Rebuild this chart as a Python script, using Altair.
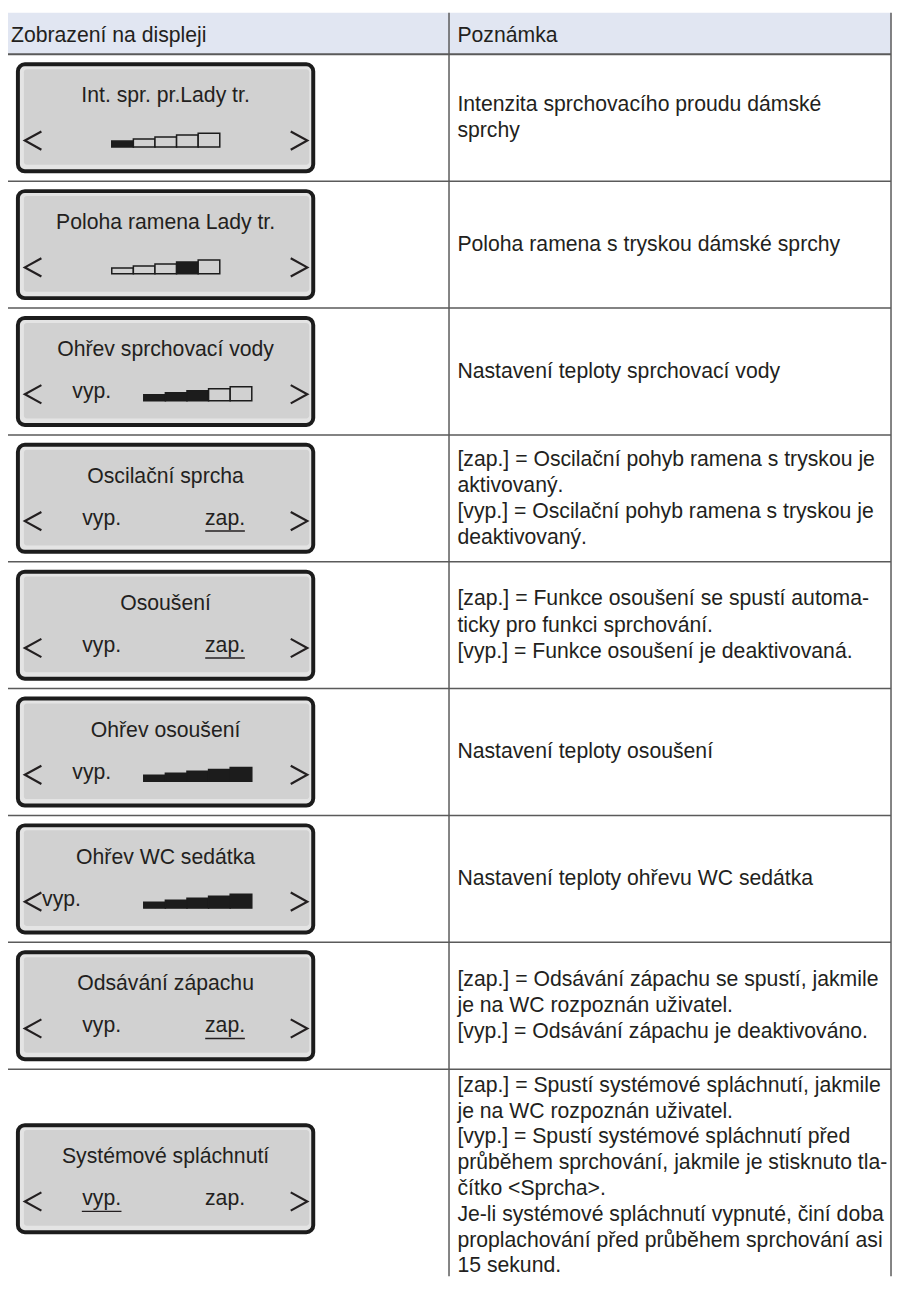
import altair as alt
import pandas as pd

# ---------------- data ----------------
header_left = "Zobrazení na displeji"
header_right = "Poznámka"

display_titles = [
    "Int. spr. pr.Lady tr.",
    "Poloha ramena Lady tr.",
    "Ohřev sprchovací vody",
    "Oscilační sprcha",
    "Osoušení",
    "Ohřev osoušení",
    "Ohřev WC sedátka",
    "Odsávání zápachu",
    "Systémové spláchnutí",
]
control_types = ["bars", "bars", "off_bars", "switch", "switch",
                 "off_bars", "off_bars_tight", "switch", "switch"]
bar_filled = [
    [1, 0, 0, 0, 0],
    [0, 0, 0, 1, 0],
    [1, 1, 1, 0, 0],
    None,
    None,
    [1, 1, 1, 1, 1],
    [1, 1, 1, 1, 1],
    None,
    None,
]
switch_selected = [None, None, None, "zap.", "zap.", None, None, "zap.", "vyp."]
off_label = "vyp."
on_label = "zap."
bar_levels = [6, 8, 10, 12, 14]

notes = [
    ["Intenzita sprchovacího proudu dámské", "sprchy"],
    ["Poloha ramena s tryskou dámské sprchy"],
    ["Nastavení teploty sprchovací vody"],
    ["[zap.] = Oscilační pohyb ramena s tryskou je", "aktivovaný.",
     "[vyp.] = Oscilační pohyb ramena s tryskou je", "deaktivovaný."],
    ["[zap.] = Funkce osoušení se spustí automa-", "ticky pro funkci sprchování.",
     "[vyp.] = Funkce osoušení je deaktivovaná."],
    ["Nastavení teploty osoušení"],
    ["Nastavení teploty ohřevu WC sedátka"],
    ["[zap.] = Odsávání zápachu se spustí, jakmile", "je na WC rozpoznán uživatel.",
     "[vyp.] = Odsávání zápachu je deaktivováno."],
    ["[zap.] = Spustí systémové spláchnutí, jakmile", "je na WC rozpoznán uživatel.",
     "[vyp.] = Spustí systémové spláchnutí před",
     "průběhem sprchování, jakmile je stisknuto tla-", "čítko <Sprcha>.",
     "Je-li systémové spláchnutí vypnuté, činí doba",
     "proplachování před průběhem sprchování asi", "15 sekund."],
]

# ---------------- layout (page pixels) ----------------
FONT = "Liberation Sans"
INK = "#231f20"
LINE = "#5a5a5a"
HEAD_BG = "#e1e6f2"
BOX_DARK = "#1c1c1c"
BOX_RIM = "#e4e4e4"
BOX_BG = "#d1d1d1"

W, H = 892, 1274          # chart occupies page x 8..900, y 8..1282
PAGE_BOTTOM = 8 + H

T_LEFT, T_RIGHT, T_TOP, HEAD_BOT = 7, 899, 7, 49
COL_DIV = 453
ROW_H = 128
row_tops = [HEAD_BOT + ROW_H * i for i in range(len(display_titles))]
row_bots = [t + ROW_H for t in row_tops]
row_bots[-1] = 1294
BOX_L, BOX_R, BOX_H = 16, 318, 111
FS = 21.4
LH = 26.4

xs = alt.Scale(domain=[8, 8 + W], range=[0, W], nice=False, zero=False)
ys = alt.Scale(domain=[8, 8 + H], range=[0, H], nice=False, zero=False)


def X(f):
    return alt.X(f, type="quantitative", scale=xs, axis=None)


def Y(f):
    return alt.Y(f, type="quantitative", scale=ys, axis=None)


def X2(f):
    return alt.X2(f)


def Y2(f):
    return alt.Y2(f)


# header background
head_df = pd.DataFrame([{"x": T_LEFT, "x2": T_RIGHT, "y": T_TOP, "y2": HEAD_BOT}])
head_bg = alt.Chart(head_df).mark_rect(fill=HEAD_BG).encode(
    x=X("x"), x2=X2("x2"), y=Y("y"), y2=Y2("y2"))

# grid lines
hl = [{"x": T_LEFT, "x2": T_RIGHT, "y": HEAD_BOT, "w": 2}]
for t in row_tops[1:]:
    hl.append({"x": T_LEFT, "x2": T_RIGHT, "y": t, "w": 1.5})
hl_df = pd.DataFrame(hl)
hlines = alt.Chart(hl_df).mark_rule(color=LINE).encode(
    x=X("x"), x2=X2("x2"), y=Y("y"),
    strokeWidth=alt.StrokeWidth("w:Q", scale=None))
vl_df = pd.DataFrame([{"x": xv, "y": T_TOP, "y2": PAGE_BOTTOM}
                      for xv in (T_LEFT, COL_DIV, T_RIGHT)])
vlines = alt.Chart(vl_df).mark_rule(color=LINE, strokeWidth=1.5).encode(
    x=X("x"), y=Y("y"), y2=Y2("y2"))

# display boxes
outer, inner, bars, chev, titles, labels, unders, note_rows = [], [], [], [], [], [], [], []
for i, title in enumerate(display_titles):
    cy_row = (row_tops[i] + row_bots[i]) / 2
    bt = cy_row - BOX_H / 2
    bb = bt + BOX_H
    outer.append({"x": BOX_L + 2, "x2": BOX_R - 2, "y": bt + 1.5, "y2": bb - 1.5})
    inner.append({"x": BOX_L + 8, "x2": BOX_R - 6, "y": bt + 6.5, "y2": bb - 8})
    titles.append({"x": (BOX_L + BOX_R) / 2, "y": bt + 40, "text": title})
    cyc = bt + 78.5
    # chevrons
    for k, pts in enumerate([
        [(BOX_L + 25.7, cyc - 9.2), (BOX_L + 9, cyc), (BOX_L + 25.7, cyc + 9.2)],
        [(BOX_R - 24.7, cyc - 9.2), (BOX_R - 8, cyc), (BOX_R - 24.7, cyc + 9.2)],
    ]):
        for o, (px, py) in enumerate(pts):
            chev.append({"id": f"{i}-{k}", "o": o, "x": px, "y": py})
    ct = control_types[i]
    if ct in ("bars", "off_bars", "off_bars_tight"):
        x0 = 112.7 if ct == "bars" else 145
        sw = 21.8
        ybot = bt + 85
        for s, (f, h) in enumerate(zip(bar_filled[i], bar_levels)):
            bars.append({"x": x0 + s * sw, "x2": x0 + (s + 1) * sw,
                         "y": ybot - h, "y2": ybot,
                         "fill": BOX_DARK if f else BOX_BG})
        if ct != "bars":
            lx = 92.5 if ct == "off_bars" else 62
            labels.append({"x": lx, "y": bt + 82.5, "text": off_label})
    else:
        for cx, lab in ((102.5, off_label), (227, on_label)):
            labels.append({"x": cx, "y": bt + 82.5, "text": lab})
            if switch_selected[i] == lab:
                unders.append({"x": cx - 20, "x2": cx + 20, "y": bt + 88.5})
    n = len(notes[i])
    lh = LH if n < 8 else 26.0
    shift = 0 if n < 8 else -3
    for j, line in enumerate(notes[i]):
        note_rows.append({"x": 461.5,
                          "y": cy_row + 6.5 + shift + (j - (n - 1) / 2) * lh,
                          "text": line})

outer_l = alt.Chart(pd.DataFrame(outer)).mark_rect(
    fill=BOX_RIM, stroke=BOX_DARK, strokeWidth=4, cornerRadius=7).encode(
    x=X("x"), x2=X2("x2"), y=Y("y"), y2=Y2("y2"))
inner_l = alt.Chart(pd.DataFrame(inner)).mark_rect(
    fill=BOX_BG, cornerRadius=3).encode(
    x=X("x"), x2=X2("x2"), y=Y("y"), y2=Y2("y2"))
bars_l = alt.Chart(pd.DataFrame(bars)).mark_rect(
    stroke=BOX_DARK, strokeWidth=1.5).encode(
    x=X("x"), x2=X2("x2"), y=Y("y"), y2=Y2("y2"),
    fill=alt.Fill("fill:N", scale=None))
chev_l = alt.Chart(pd.DataFrame(chev)).mark_line(
    color=INK, strokeWidth=2.2, strokeJoin="miter").encode(
    x=X("x"), y=Y("y"), detail="id:N", order="o:Q")
titles_l = alt.Chart(pd.DataFrame(titles)).mark_text(
    font=FONT, fontSize=FS, color=INK, align="center", baseline="alphabetic").encode(
    x=X("x"), y=Y("y"), text="text:N")
labels_l = alt.Chart(pd.DataFrame(labels)).mark_text(
    font=FONT, fontSize=FS, color=INK, align="center", baseline="alphabetic").encode(
    x=X("x"), y=Y("y"), text="text:N")
unders_l = alt.Chart(pd.DataFrame(unders)).mark_rule(
    color=INK, strokeWidth=1.5).encode(x=X("x"), x2=X2("x2"), y=Y("y"))
notes_l = alt.Chart(pd.DataFrame(note_rows)).mark_text(
    font=FONT, fontSize=FS, color=INK, align="left", baseline="alphabetic").encode(
    x=X("x"), y=Y("y"), text="text:N")
head_txt = alt.Chart(pd.DataFrame([
    {"x": 11, "y": 36.5, "text": header_left},
    {"x": 461.5, "y": 36.5, "text": header_right},
])).mark_text(font=FONT, fontSize=FS, color=INK, align="left", baseline="alphabetic").encode(
    x=X("x"), y=Y("y"), text="text:N")

chart = alt.layer(
    head_bg, hlines, vlines, outer_l, inner_l, bars_l, chev_l,
    titles_l, labels_l, unders_l, notes_l, head_txt,
).properties(
    width=W, height=H, padding=0,
    autosize=alt.AutoSizeParams(type="none"),
    background="white",
).configure_view(stroke=None)

chart.save("out.html", embed_options={"renderer": "svg", "actions": False})
